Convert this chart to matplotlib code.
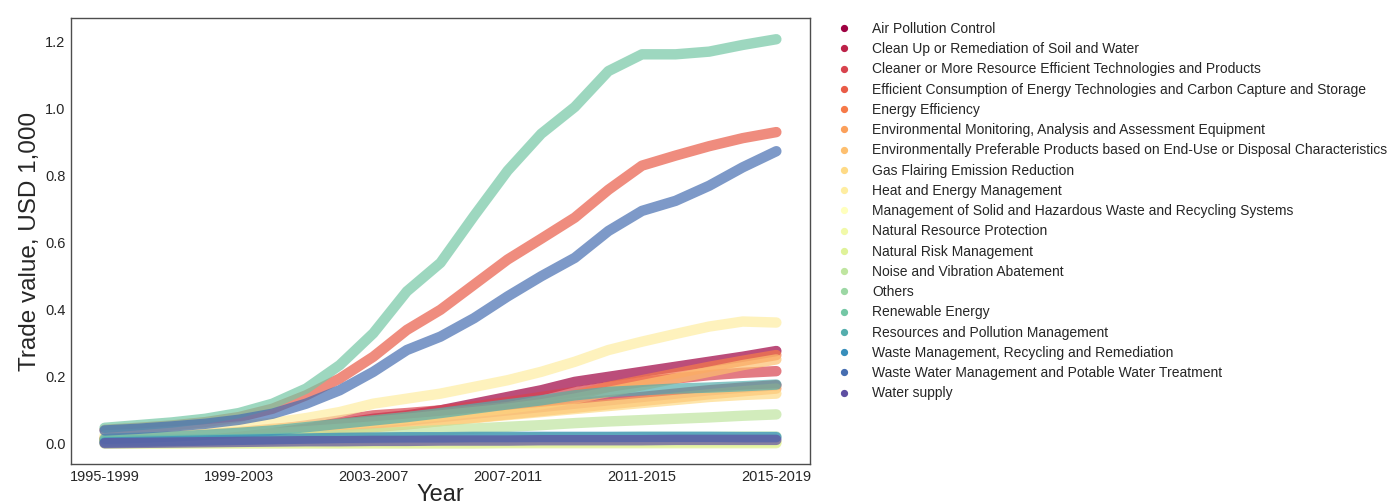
import matplotlib
matplotlib.use("Agg")
import matplotlib.pyplot as plt
from matplotlib.lines import Line2D
import numpy as np

plt.rcParams['font.family'] = ['Liberation Sans', 'DejaVu Sans']

periods = ["1995-1999", "1996-2000", "1997-2001", "1998-2002", "1999-2003",
           "2000-2004", "2001-2005", "2002-2006", "2003-2007", "2004-2008",
           "2005-2009", "2006-2010", "2007-2011", "2008-2012", "2009-2013",
           "2010-2014", "2011-2015", "2012-2016", "2013-2017", "2014-2018",
           "2015-2019"]

categories = [
    "Air Pollution Control",
    "Clean Up or Remediation of Soil and Water",
    "Cleaner or More Resource Efficient Technologies and Products",
    "Efficient Consumption of Energy Technologies and Carbon Capture and Storage",
    "Energy Efficiency",
    "Environmental Monitoring, Analysis and Assessment Equipment",
    "Environmentally Preferable Products based on End-Use or Disposal Characteristics",
    "Gas Flairing Emission Reduction",
    "Heat and Energy Management",
    "Management of Solid and Hazardous Waste and Recycling Systems",
    "Natural Resource Protection",
    "Natural Risk Management",
    "Noise and Vibration Abatement",
    "Others",
    "Renewable Energy",
    "Resources and Pollution Management",
    "Waste Management, Recycling and Remediation",
    "Waste Water Management and Potable Water Treatment",
    "Water supply",
]

air_pollution = [0.010, 0.012, 0.015, 0.020, 0.027, 0.035, 0.045, 0.060, 0.075, 0.085, 0.100,
                 0.120, 0.140, 0.160, 0.185, 0.200, 0.215, 0.230, 0.245, 0.260, 0.277]
clean_up = [0.008, 0.010, 0.012, 0.016, 0.022, 0.030, 0.040, 0.050, 0.060, 0.070, 0.080,
            0.090, 0.100, 0.110, 0.120, 0.130, 0.140, 0.150, 0.160, 0.168, 0.175]
cleaner_tech = [0.012, 0.015, 0.018, 0.024, 0.032, 0.042, 0.055, 0.070, 0.085, 0.092, 0.100,
                0.112, 0.125, 0.140, 0.155, 0.170, 0.185, 0.195, 0.205, 0.212, 0.217]
efficient_consumption = [0.042, 0.048, 0.055, 0.065, 0.080, 0.105, 0.145, 0.195, 0.260, 0.340, 0.400,
                         0.475, 0.550, 0.612, 0.675, 0.758, 0.830, 0.860, 0.888, 0.912, 0.930]
energy_efficiency = [0.015, 0.018, 0.022, 0.028, 0.035, 0.045, 0.052, 0.060, 0.070, 0.080, 0.090,
                     0.100, 0.110, 0.125, 0.145, 0.170, 0.190, 0.210, 0.230, 0.248, 0.265]
env_monitoring = [0.010, 0.012, 0.015, 0.018, 0.022, 0.028, 0.035, 0.042, 0.050, 0.058, 0.068,
                  0.078, 0.088, 0.098, 0.108, 0.118, 0.128, 0.138, 0.148, 0.157, 0.165]
env_preferable = [0.018, 0.020, 0.024, 0.029, 0.035, 0.042, 0.050, 0.058, 0.066, 0.075, 0.085,
                  0.095, 0.105, 0.118, 0.135, 0.155, 0.175, 0.195, 0.215, 0.235, 0.252]
gas_flairing = [0.015, 0.017, 0.020, 0.023, 0.027, 0.032, 0.038, 0.045, 0.052, 0.060, 0.068,
                0.077, 0.086, 0.095, 0.104, 0.113, 0.122, 0.131, 0.140, 0.146, 0.150]
heat_energy = [0.025, 0.030, 0.037, 0.043, 0.052, 0.063, 0.077, 0.095, 0.120, 0.135, 0.150,
               0.170, 0.190, 0.215, 0.245, 0.280, 0.305, 0.328, 0.350, 0.365, 0.362]
solid_waste = [0.002, 0.002, 0.002, 0.003, 0.003, 0.003, 0.003, 0.003, 0.004, 0.004, 0.004,
               0.004, 0.004, 0.004, 0.004, 0.004, 0.004, 0.004, 0.004, 0.004, 0.004]
resource_protection = [0.003, 0.003, 0.003, 0.004, 0.004, 0.004, 0.005, 0.005, 0.005, 0.005, 0.005,
                       0.005, 0.005, 0.006, 0.006, 0.006, 0.006, 0.006, 0.006, 0.006, 0.006]
risk_management = [0.001, 0.001, 0.001, 0.001, 0.001, 0.001, 0.001, 0.001, 0.001, 0.001, 0.001,
                   0.001, 0.002, 0.002, 0.002, 0.002, 0.002, 0.002, 0.002, 0.002, 0.002]
noise_vibration = [0.008, 0.009, 0.010, 0.012, 0.014, 0.017, 0.021, 0.026, 0.031, 0.036, 0.041,
                   0.046, 0.051, 0.056, 0.062, 0.067, 0.071, 0.075, 0.079, 0.084, 0.088]
others = [0.010, 0.011, 0.012, 0.013, 0.014, 0.015, 0.016, 0.017, 0.017, 0.018, 0.018,
          0.019, 0.019, 0.020, 0.020, 0.020, 0.021, 0.021, 0.021, 0.022, 0.022]
renewable_energy = [0.048, 0.056, 0.064, 0.075, 0.092, 0.120, 0.165, 0.235, 0.330, 0.455, 0.540,
                    0.680, 0.815, 0.925, 1.005, 1.112, 1.162, 1.162, 1.170, 1.190, 1.207]
resources_pollution = [0.015, 0.018, 0.022, 0.027, 0.033, 0.040, 0.050, 0.060, 0.070, 0.080, 0.092,
                       0.105, 0.118, 0.130, 0.145, 0.155, 0.160, 0.165, 0.168, 0.172, 0.177]
waste_management = [0.004, 0.006, 0.008, 0.010, 0.012, 0.014, 0.016, 0.018, 0.019, 0.020, 0.020,
                    0.021, 0.021, 0.021, 0.021, 0.021, 0.021, 0.021, 0.021, 0.020, 0.020]
waste_water = [0.040, 0.045, 0.052, 0.060, 0.072, 0.090, 0.120, 0.160, 0.215, 0.280, 0.320,
               0.375, 0.440, 0.500, 0.555, 0.635, 0.695, 0.725, 0.770, 0.825, 0.873]
water_supply = [0.002, 0.003, 0.004, 0.005, 0.006, 0.007, 0.008, 0.008, 0.009, 0.009, 0.010,
                0.010, 0.010, 0.011, 0.011, 0.011, 0.011, 0.012, 0.012, 0.012, 0.012]

series = [air_pollution, clean_up, cleaner_tech, efficient_consumption, energy_efficiency,
          env_monitoring, env_preferable, gas_flairing, heat_energy, solid_waste,
          resource_protection, risk_management, noise_vibration, others, renewable_energy,
          resources_pollution, waste_management, waste_water, water_supply]

colors = plt.cm.Spectral(np.linspace(0, 1, len(categories)))
text_color = "#262626"

fig = plt.figure(figsize=(13.95, 5.03), dpi=100)
ax = fig.add_axes([0.0509, 0.0775, 0.5297, 0.8865])

x = np.arange(len(periods))
for values, color in zip(series, colors):
    ax.plot(x, values, color=color, alpha=0.7, linewidth=7.5,
            solid_capstyle="round", solid_joinstyle="round")

ax.set_xlim(-1, 21)
ax.set_ylim(-0.06, 1.27)
tick_idx = list(range(0, len(periods), 4))
ax.set_xticks(tick_idx)
ax.set_xticklabels([periods[i] for i in tick_idx])
ax.set_yticks([0.0, 0.2, 0.4, 0.6, 0.8, 1.0, 1.2])
ax.set_yticklabels(["0.0", "0.2", "0.4", "0.6", "0.8", "1.0", "1.2"])
ax.tick_params(axis="both", length=0, labelsize=10.5, colors=text_color, pad=4)

for spine in ax.spines.values():
    spine.set_color("#4d4d4d")
    spine.set_linewidth(1.0)

ax.set_xlabel("Year", fontsize=17, color=text_color, labelpad=0)
ax.set_ylabel("Trade value, USD 1,000", fontsize=17.5, color=text_color, labelpad=3)

handles = [Line2D([0], [0], marker="o", linestyle="", color=c, markersize=4.2)
           for c in colors]
ax.legend(handles, categories, loc="upper left", bbox_to_anchor=(1.02, 1.004),
          frameon=False, fontsize=10, handletextpad=1.0, labelspacing=0.45,
          borderaxespad=0.0, labelcolor=text_color)

fig.savefig("out.png", dpi=100)
